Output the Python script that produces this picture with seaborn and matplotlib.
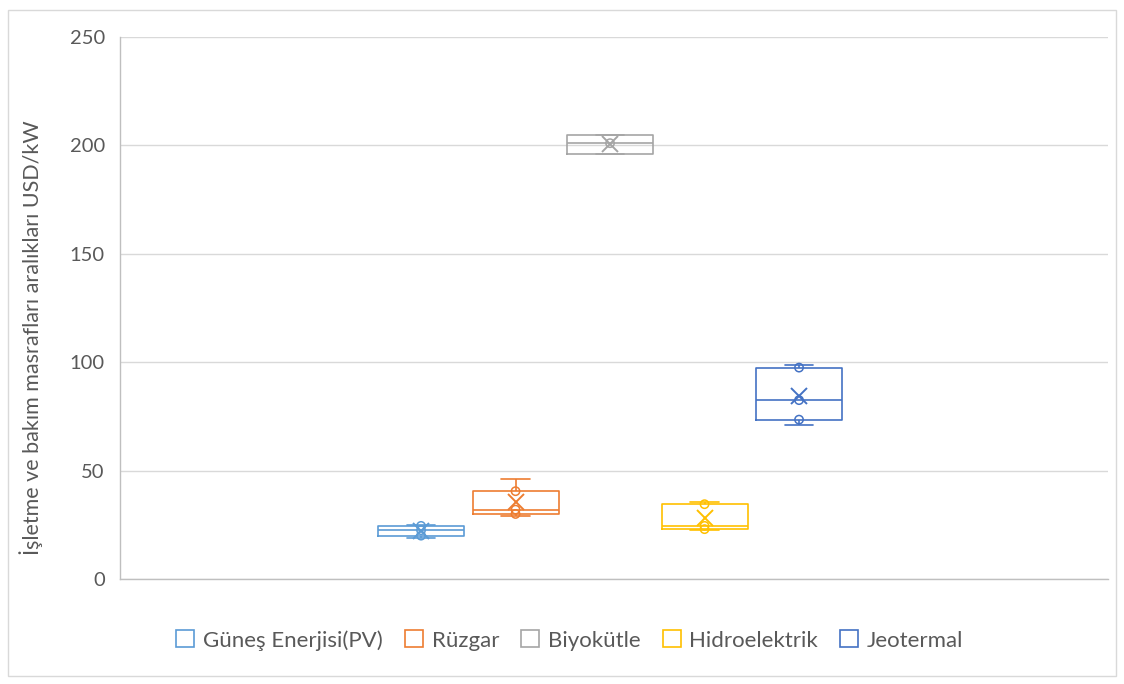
import numpy as np
import pandas as pd
import matplotlib
matplotlib.use("Agg")
import matplotlib.pyplot as plt
from matplotlib.patches import Patch, Rectangle
import seaborn as sns

# O&M cost ranges per technology (USD/kW)
seriler = ["Güneş Enerjisi(PV)", "Rüzgar", "Biyokütle", "Hidroelektrik", "Jeotermal"]
gunes = [19, 20, 22.5, 24.5, 25]
ruzgar = [29, 30, 32, 40.5, 46]
biyokutle = [196, 196, 201, 205, 205]
hidro = [22.5, 23, 24.5, 34.5, 35.5]
jeotermal = [71, 73.5, 82.5, 97.5, 98.5]
renkler = ["#5B9BD5", "#ED7D31", "#A5A5A5", "#FFC000", "#4472C4"]
y_ticks = [0, 50, 100, 150, 200, 250]
y_label = "İşletme ve bakım masrafları aralıkları USD/kW"

degerler = [gunes, ruzgar, biyokutle, hidro, jeotermal]
df = pd.DataFrame({
    "seri": [s for s, v in zip(seriler, degerler) for _ in v],
    "deger": [x for v in degerler for x in v],
})
# inner points: values lying strictly inside the whisker range
ic = df.groupby("seri")["deger"].transform(
    lambda v: (v > v.min()) & (v < v.max())).astype(bool)
df_ic = df[ic]
palet = dict(zip(seriler, renkler))

sns.set_style("white")
plt.rcParams["font.family"] = ["Lato", "DejaVu Sans"]

fig = plt.figure(figsize=(11.24, 6.84), dpi=100)
ax = fig.add_axes([0.1068, 0.1535, 0.879, 0.7925])

sns.boxplot(data=df, x="seri", y="deger", hue="seri", order=seriler,
            hue_order=seriler, palette=palet, fill=False, width=0.91,
            whis=np.inf, linewidth=1.2, legend=False, ax=ax,
            capwidths=0.3)
n_before = len(ax.collections)
sns.stripplot(data=df_ic, x="seri", y="deger", hue="seri", order=seriler,
              hue_order=seriler, palette=palet, jitter=False, legend=False,
              marker="o", size=6, linewidth=1.1, ax=ax)
for coll in ax.collections[n_before:]:
    fc = coll.get_facecolors()
    coll.set_edgecolors(fc)
    coll.set_facecolor("none")
sns.pointplot(data=df, x="seri", y="deger", hue="seri", order=seriler,
              hue_order=seriler, palette=palet, estimator="mean",
              errorbar=None, linestyle="none", markers="x",
              markersize=11, markeredgewidth=1.4, legend=False, ax=ax)

# axes layout
ax.set_xlim(2 - 490 / 94.5, 2 + 498 / 94.5)
ax.set_ylim(0, 250)
ax.set_yticks(y_ticks)
ax.set_xticks([])
ax.set_xlabel("")
ax.set_ylabel(y_label, fontsize=15.5, color="#595959")
ax.yaxis.set_label_coords(-0.078, 0.446)
ax.tick_params(axis="y", labelsize=14.5, labelcolor="#595959", length=0, pad=11)
ax.yaxis.grid(True, color="#D9D9D9", linewidth=1)
ax.set_axisbelow(True)
for side in ["top", "right"]:
    ax.spines[side].set_visible(False)
for side in ["left", "bottom"]:
    ax.spines[side].set_color("#BFBFBF")
    ax.spines[side].set_linewidth(1)

handles = [Patch(facecolor="white", edgecolor=c, linewidth=1.2, label=s)
           for s, c in zip(seriler, renkler)]
leg = fig.legend(handles=handles, loc="center", ncol=5,
                 bbox_to_anchor=(0.507, 0.064), frameon=False,
                 fontsize=16, handlelength=0.8, handleheight=0.8,
                 handletextpad=0.4, columnspacing=1.0)
for t in leg.get_texts():
    t.set_color("#595959")

fig.patches.append(Rectangle((0.007, 0.012), 0.986, 0.973,
                             transform=fig.transFigure, fill=False,
                             edgecolor="#D9D9D9", linewidth=1))

fig.savefig("out.png", dpi=100)
